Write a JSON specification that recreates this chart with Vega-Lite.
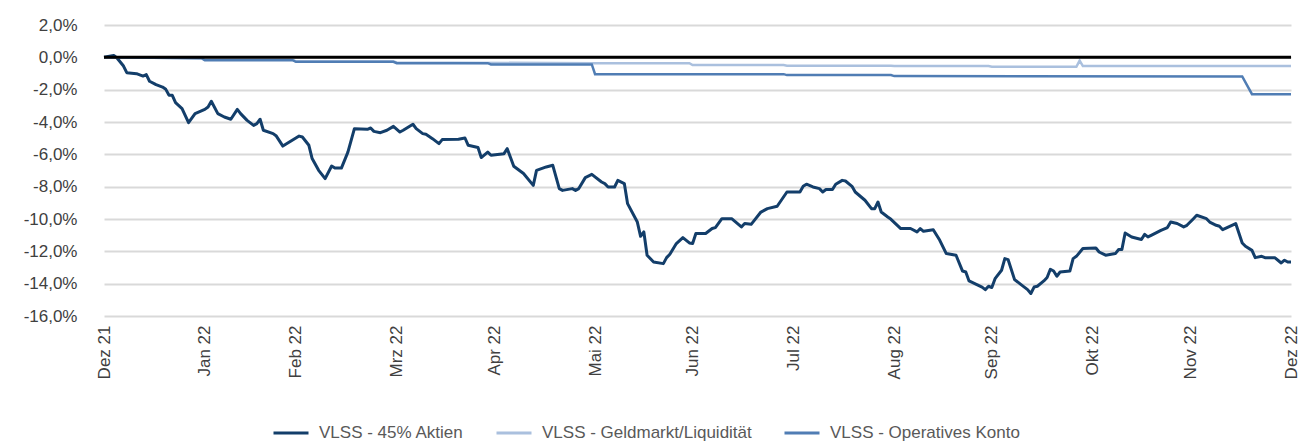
{
  "$schema": "https://vega.github.io/schema/vega-lite/v6.json",
  "width": 1187,
  "height": 291,
  "padding": {"left": 104, "top": 25, "right": 8, "bottom": 125},
  "autosize": {"type": "none"},
  "background": "white",
  "config": {
    "view": {"stroke": null},
    "font": "Liberation Sans",
    "axis": {"labelFont": "Liberation Sans", "labelFontSize": 17, "labelColor": "#404040", "domain": false, "ticks": false, "gridColor": "#d9d9d9", "gridWidth": 2}
  },
  "datasets": {
    "perf": [
      {"date": "2021-12-31", "series": "VLSS - 45% Aktien", "value": 0},
      {"date": "2022-01-03", "series": "VLSS - 45% Aktien", "value": 0.12},
      {"date": "2022-01-04", "series": "VLSS - 45% Aktien", "value": -0.04},
      {"date": "2022-01-06", "series": "VLSS - 45% Aktien", "value": -0.54},
      {"date": "2022-01-07", "series": "VLSS - 45% Aktien", "value": -0.95},
      {"date": "2022-01-10", "series": "VLSS - 45% Aktien", "value": -1.01},
      {"date": "2022-01-12", "series": "VLSS - 45% Aktien", "value": -1.16},
      {"date": "2022-01-13", "series": "VLSS - 45% Aktien", "value": -1.07},
      {"date": "2022-01-14", "series": "VLSS - 45% Aktien", "value": -1.48},
      {"date": "2022-01-16", "series": "VLSS - 45% Aktien", "value": -1.69},
      {"date": "2022-01-18", "series": "VLSS - 45% Aktien", "value": -1.84},
      {"date": "2022-01-19", "series": "VLSS - 45% Aktien", "value": -1.98},
      {"date": "2022-01-20", "series": "VLSS - 45% Aktien", "value": -2.35},
      {"date": "2022-01-21", "series": "VLSS - 45% Aktien", "value": -2.35},
      {"date": "2022-01-22", "series": "VLSS - 45% Aktien", "value": -2.8},
      {"date": "2022-01-24", "series": "VLSS - 45% Aktien", "value": -3.17},
      {"date": "2022-01-26", "series": "VLSS - 45% Aktien", "value": -4.04},
      {"date": "2022-01-28", "series": "VLSS - 45% Aktien", "value": -3.48},
      {"date": "2022-01-31", "series": "VLSS - 45% Aktien", "value": -3.22},
      {"date": "2022-02-01", "series": "VLSS - 45% Aktien", "value": -3.07},
      {"date": "2022-02-02", "series": "VLSS - 45% Aktien", "value": -2.72},
      {"date": "2022-02-04", "series": "VLSS - 45% Aktien", "value": -3.48},
      {"date": "2022-02-06", "series": "VLSS - 45% Aktien", "value": -3.69},
      {"date": "2022-02-08", "series": "VLSS - 45% Aktien", "value": -3.83},
      {"date": "2022-02-10", "series": "VLSS - 45% Aktien", "value": -3.22},
      {"date": "2022-02-11", "series": "VLSS - 45% Aktien", "value": -3.48},
      {"date": "2022-02-13", "series": "VLSS - 45% Aktien", "value": -3.9},
      {"date": "2022-02-15", "series": "VLSS - 45% Aktien", "value": -4.21},
      {"date": "2022-02-16", "series": "VLSS - 45% Aktien", "value": -4.1},
      {"date": "2022-02-17", "series": "VLSS - 45% Aktien", "value": -3.83},
      {"date": "2022-02-18", "series": "VLSS - 45% Aktien", "value": -4.51},
      {"date": "2022-02-21", "series": "VLSS - 45% Aktien", "value": -4.72},
      {"date": "2022-02-22", "series": "VLSS - 45% Aktien", "value": -4.87},
      {"date": "2022-02-24", "series": "VLSS - 45% Aktien", "value": -5.49},
      {"date": "2022-02-26", "series": "VLSS - 45% Aktien", "value": -5.24},
      {"date": "2022-03-01", "series": "VLSS - 45% Aktien", "value": -4.87},
      {"date": "2022-03-02", "series": "VLSS - 45% Aktien", "value": -4.93},
      {"date": "2022-03-04", "series": "VLSS - 45% Aktien", "value": -5.44},
      {"date": "2022-03-05", "series": "VLSS - 45% Aktien", "value": -6.26},
      {"date": "2022-03-07", "series": "VLSS - 45% Aktien", "value": -6.99},
      {"date": "2022-03-09", "series": "VLSS - 45% Aktien", "value": -7.5},
      {"date": "2022-03-11", "series": "VLSS - 45% Aktien", "value": -6.72},
      {"date": "2022-03-12", "series": "VLSS - 45% Aktien", "value": -6.85},
      {"date": "2022-03-14", "series": "VLSS - 45% Aktien", "value": -6.85},
      {"date": "2022-03-16", "series": "VLSS - 45% Aktien", "value": -5.86},
      {"date": "2022-03-18", "series": "VLSS - 45% Aktien", "value": -4.41},
      {"date": "2022-03-22", "series": "VLSS - 45% Aktien", "value": -4.45},
      {"date": "2022-03-23", "series": "VLSS - 45% Aktien", "value": -4.37},
      {"date": "2022-03-24", "series": "VLSS - 45% Aktien", "value": -4.58},
      {"date": "2022-03-26", "series": "VLSS - 45% Aktien", "value": -4.66},
      {"date": "2022-03-28", "series": "VLSS - 45% Aktien", "value": -4.51},
      {"date": "2022-03-30", "series": "VLSS - 45% Aktien", "value": -4.27},
      {"date": "2022-04-01", "series": "VLSS - 45% Aktien", "value": -4.62},
      {"date": "2022-04-02", "series": "VLSS - 45% Aktien", "value": -4.51},
      {"date": "2022-04-05", "series": "VLSS - 45% Aktien", "value": -4.14},
      {"date": "2022-04-06", "series": "VLSS - 45% Aktien", "value": -4.41},
      {"date": "2022-04-08", "series": "VLSS - 45% Aktien", "value": -4.72},
      {"date": "2022-04-09", "series": "VLSS - 45% Aktien", "value": -4.76},
      {"date": "2022-04-11", "series": "VLSS - 45% Aktien", "value": -5.03},
      {"date": "2022-04-13", "series": "VLSS - 45% Aktien", "value": -5.34},
      {"date": "2022-04-14", "series": "VLSS - 45% Aktien", "value": -5.09},
      {"date": "2022-04-19", "series": "VLSS - 45% Aktien", "value": -5.07},
      {"date": "2022-04-21", "series": "VLSS - 45% Aktien", "value": -4.99},
      {"date": "2022-04-22", "series": "VLSS - 45% Aktien", "value": -5.44},
      {"date": "2022-04-25", "series": "VLSS - 45% Aktien", "value": -5.58},
      {"date": "2022-04-26", "series": "VLSS - 45% Aktien", "value": -6.2},
      {"date": "2022-04-28", "series": "VLSS - 45% Aktien", "value": -5.86},
      {"date": "2022-04-29", "series": "VLSS - 45% Aktien", "value": -6.06},
      {"date": "2022-05-03", "series": "VLSS - 45% Aktien", "value": -5.96},
      {"date": "2022-05-04", "series": "VLSS - 45% Aktien", "value": -5.65},
      {"date": "2022-05-06", "series": "VLSS - 45% Aktien", "value": -6.74},
      {"date": "2022-05-09", "series": "VLSS - 45% Aktien", "value": -7.19},
      {"date": "2022-05-12", "series": "VLSS - 45% Aktien", "value": -7.92},
      {"date": "2022-05-13", "series": "VLSS - 45% Aktien", "value": -6.99},
      {"date": "2022-05-16", "series": "VLSS - 45% Aktien", "value": -6.78},
      {"date": "2022-05-18", "series": "VLSS - 45% Aktien", "value": -6.68},
      {"date": "2022-05-20", "series": "VLSS - 45% Aktien", "value": -8.12},
      {"date": "2022-05-21", "series": "VLSS - 45% Aktien", "value": -8.23},
      {"date": "2022-05-24", "series": "VLSS - 45% Aktien", "value": -8.12},
      {"date": "2022-05-25", "series": "VLSS - 45% Aktien", "value": -8.23},
      {"date": "2022-05-26", "series": "VLSS - 45% Aktien", "value": -8.12},
      {"date": "2022-05-28", "series": "VLSS - 45% Aktien", "value": -7.44},
      {"date": "2022-05-30", "series": "VLSS - 45% Aktien", "value": -7.24},
      {"date": "2022-06-02", "series": "VLSS - 45% Aktien", "value": -7.71},
      {"date": "2022-06-03", "series": "VLSS - 45% Aktien", "value": -7.81},
      {"date": "2022-06-04", "series": "VLSS - 45% Aktien", "value": -8.02},
      {"date": "2022-06-06", "series": "VLSS - 45% Aktien", "value": -8.02},
      {"date": "2022-06-07", "series": "VLSS - 45% Aktien", "value": -7.61},
      {"date": "2022-06-09", "series": "VLSS - 45% Aktien", "value": -7.81},
      {"date": "2022-06-10", "series": "VLSS - 45% Aktien", "value": -9.05},
      {"date": "2022-06-13", "series": "VLSS - 45% Aktien", "value": -10.19},
      {"date": "2022-06-14", "series": "VLSS - 45% Aktien", "value": -11.07},
      {"date": "2022-06-15", "series": "VLSS - 45% Aktien", "value": -10.8},
      {"date": "2022-06-16", "series": "VLSS - 45% Aktien", "value": -12.24},
      {"date": "2022-06-18", "series": "VLSS - 45% Aktien", "value": -12.66},
      {"date": "2022-06-21", "series": "VLSS - 45% Aktien", "value": -12.76},
      {"date": "2022-06-22", "series": "VLSS - 45% Aktien", "value": -12.39},
      {"date": "2022-06-23", "series": "VLSS - 45% Aktien", "value": -12.18},
      {"date": "2022-06-25", "series": "VLSS - 45% Aktien", "value": -11.52},
      {"date": "2022-06-27", "series": "VLSS - 45% Aktien", "value": -11.15},
      {"date": "2022-06-29", "series": "VLSS - 45% Aktien", "value": -11.48},
      {"date": "2022-06-30", "series": "VLSS - 45% Aktien", "value": -11.52},
      {"date": "2022-07-01", "series": "VLSS - 45% Aktien", "value": -10.9},
      {"date": "2022-07-04", "series": "VLSS - 45% Aktien", "value": -10.9},
      {"date": "2022-07-06", "series": "VLSS - 45% Aktien", "value": -10.59},
      {"date": "2022-07-07", "series": "VLSS - 45% Aktien", "value": -10.53},
      {"date": "2022-07-09", "series": "VLSS - 45% Aktien", "value": -9.98},
      {"date": "2022-07-12", "series": "VLSS - 45% Aktien", "value": -9.98},
      {"date": "2022-07-15", "series": "VLSS - 45% Aktien", "value": -10.49},
      {"date": "2022-07-16", "series": "VLSS - 45% Aktien", "value": -10.28},
      {"date": "2022-07-18", "series": "VLSS - 45% Aktien", "value": -10.33},
      {"date": "2022-07-21", "series": "VLSS - 45% Aktien", "value": -9.57},
      {"date": "2022-07-23", "series": "VLSS - 45% Aktien", "value": -9.36},
      {"date": "2022-07-26", "series": "VLSS - 45% Aktien", "value": -9.21},
      {"date": "2022-07-29", "series": "VLSS - 45% Aktien", "value": -8.33},
      {"date": "2022-08-02", "series": "VLSS - 45% Aktien", "value": -8.33},
      {"date": "2022-08-03", "series": "VLSS - 45% Aktien", "value": -7.98},
      {"date": "2022-08-04", "series": "VLSS - 45% Aktien", "value": -7.85},
      {"date": "2022-08-06", "series": "VLSS - 45% Aktien", "value": -8.02},
      {"date": "2022-08-08", "series": "VLSS - 45% Aktien", "value": -8.12},
      {"date": "2022-08-09", "series": "VLSS - 45% Aktien", "value": -8.33},
      {"date": "2022-08-10", "series": "VLSS - 45% Aktien", "value": -8.18},
      {"date": "2022-08-12", "series": "VLSS - 45% Aktien", "value": -8.18},
      {"date": "2022-08-13", "series": "VLSS - 45% Aktien", "value": -7.85},
      {"date": "2022-08-15", "series": "VLSS - 45% Aktien", "value": -7.61},
      {"date": "2022-08-16", "series": "VLSS - 45% Aktien", "value": -7.65},
      {"date": "2022-08-18", "series": "VLSS - 45% Aktien", "value": -7.98},
      {"date": "2022-08-19", "series": "VLSS - 45% Aktien", "value": -8.33},
      {"date": "2022-08-22", "series": "VLSS - 45% Aktien", "value": -8.84},
      {"date": "2022-08-24", "series": "VLSS - 45% Aktien", "value": -9.36},
      {"date": "2022-08-25", "series": "VLSS - 45% Aktien", "value": -9.36},
      {"date": "2022-08-26", "series": "VLSS - 45% Aktien", "value": -8.95},
      {"date": "2022-08-27", "series": "VLSS - 45% Aktien", "value": -9.57},
      {"date": "2022-08-29", "series": "VLSS - 45% Aktien", "value": -9.88},
      {"date": "2022-08-30", "series": "VLSS - 45% Aktien", "value": -10.02},
      {"date": "2022-09-02", "series": "VLSS - 45% Aktien", "value": -10.59},
      {"date": "2022-09-05", "series": "VLSS - 45% Aktien", "value": -10.59},
      {"date": "2022-09-07", "series": "VLSS - 45% Aktien", "value": -10.8},
      {"date": "2022-09-08", "series": "VLSS - 45% Aktien", "value": -10.59},
      {"date": "2022-09-09", "series": "VLSS - 45% Aktien", "value": -10.76},
      {"date": "2022-09-12", "series": "VLSS - 45% Aktien", "value": -10.66},
      {"date": "2022-09-14", "series": "VLSS - 45% Aktien", "value": -11.32},
      {"date": "2022-09-16", "series": "VLSS - 45% Aktien", "value": -12.14},
      {"date": "2022-09-19", "series": "VLSS - 45% Aktien", "value": -12.24},
      {"date": "2022-09-21", "series": "VLSS - 45% Aktien", "value": -13.22},
      {"date": "2022-09-22", "series": "VLSS - 45% Aktien", "value": -13.28},
      {"date": "2022-09-23", "series": "VLSS - 45% Aktien", "value": -13.83},
      {"date": "2022-09-27", "series": "VLSS - 45% Aktien", "value": -14.21},
      {"date": "2022-09-28", "series": "VLSS - 45% Aktien", "value": -14.37},
      {"date": "2022-09-29", "series": "VLSS - 45% Aktien", "value": -14.16},
      {"date": "2022-09-30", "series": "VLSS - 45% Aktien", "value": -14.24},
      {"date": "2022-10-01", "series": "VLSS - 45% Aktien", "value": -13.69},
      {"date": "2022-10-03", "series": "VLSS - 45% Aktien", "value": -13.17},
      {"date": "2022-10-04", "series": "VLSS - 45% Aktien", "value": -12.45},
      {"date": "2022-10-05", "series": "VLSS - 45% Aktien", "value": -12.51},
      {"date": "2022-10-07", "series": "VLSS - 45% Aktien", "value": -13.75},
      {"date": "2022-10-09", "series": "VLSS - 45% Aktien", "value": -14.06},
      {"date": "2022-10-11", "series": "VLSS - 45% Aktien", "value": -14.37},
      {"date": "2022-10-12", "series": "VLSS - 45% Aktien", "value": -14.61},
      {"date": "2022-10-13", "series": "VLSS - 45% Aktien", "value": -14.21},
      {"date": "2022-10-14", "series": "VLSS - 45% Aktien", "value": -14.16},
      {"date": "2022-10-16", "series": "VLSS - 45% Aktien", "value": -13.83},
      {"date": "2022-10-17", "series": "VLSS - 45% Aktien", "value": -13.62},
      {"date": "2022-10-18", "series": "VLSS - 45% Aktien", "value": -13.11},
      {"date": "2022-10-19", "series": "VLSS - 45% Aktien", "value": -13.22},
      {"date": "2022-10-20", "series": "VLSS - 45% Aktien", "value": -13.54},
      {"date": "2022-10-21", "series": "VLSS - 45% Aktien", "value": -13.28},
      {"date": "2022-10-24", "series": "VLSS - 45% Aktien", "value": -13.22},
      {"date": "2022-10-25", "series": "VLSS - 45% Aktien", "value": -12.45},
      {"date": "2022-10-26", "series": "VLSS - 45% Aktien", "value": -12.31},
      {"date": "2022-10-28", "series": "VLSS - 45% Aktien", "value": -11.83},
      {"date": "2022-11-01", "series": "VLSS - 45% Aktien", "value": -11.79},
      {"date": "2022-11-02", "series": "VLSS - 45% Aktien", "value": -12.04},
      {"date": "2022-11-04", "series": "VLSS - 45% Aktien", "value": -12.24},
      {"date": "2022-11-07", "series": "VLSS - 45% Aktien", "value": -12.14},
      {"date": "2022-11-08", "series": "VLSS - 45% Aktien", "value": -11.89},
      {"date": "2022-11-09", "series": "VLSS - 45% Aktien", "value": -11.89},
      {"date": "2022-11-10", "series": "VLSS - 45% Aktien", "value": -10.87},
      {"date": "2022-11-12", "series": "VLSS - 45% Aktien", "value": -11.11},
      {"date": "2022-11-15", "series": "VLSS - 45% Aktien", "value": -11.27},
      {"date": "2022-11-16", "series": "VLSS - 45% Aktien", "value": -10.95},
      {"date": "2022-11-17", "series": "VLSS - 45% Aktien", "value": -11.11},
      {"date": "2022-11-18", "series": "VLSS - 45% Aktien", "value": -11.01},
      {"date": "2022-11-21", "series": "VLSS - 45% Aktien", "value": -10.7},
      {"date": "2022-11-23", "series": "VLSS - 45% Aktien", "value": -10.53},
      {"date": "2022-11-24", "series": "VLSS - 45% Aktien", "value": -10.19},
      {"date": "2022-11-26", "series": "VLSS - 45% Aktien", "value": -10.28},
      {"date": "2022-11-28", "series": "VLSS - 45% Aktien", "value": -10.49},
      {"date": "2022-11-29", "series": "VLSS - 45% Aktien", "value": -10.39},
      {"date": "2022-12-01", "series": "VLSS - 45% Aktien", "value": -9.98},
      {"date": "2022-12-02", "series": "VLSS - 45% Aktien", "value": -9.77},
      {"date": "2022-12-05", "series": "VLSS - 45% Aktien", "value": -9.98},
      {"date": "2022-12-06", "series": "VLSS - 45% Aktien", "value": -10.19},
      {"date": "2022-12-08", "series": "VLSS - 45% Aktien", "value": -10.39},
      {"date": "2022-12-09", "series": "VLSS - 45% Aktien", "value": -10.45},
      {"date": "2022-12-10", "series": "VLSS - 45% Aktien", "value": -10.66},
      {"date": "2022-12-14", "series": "VLSS - 45% Aktien", "value": -10.28},
      {"date": "2022-12-16", "series": "VLSS - 45% Aktien", "value": -11.48},
      {"date": "2022-12-17", "series": "VLSS - 45% Aktien", "value": -11.69},
      {"date": "2022-12-19", "series": "VLSS - 45% Aktien", "value": -11.94},
      {"date": "2022-12-20", "series": "VLSS - 45% Aktien", "value": -12.39},
      {"date": "2022-12-22", "series": "VLSS - 45% Aktien", "value": -12.31},
      {"date": "2022-12-23", "series": "VLSS - 45% Aktien", "value": -12.39},
      {"date": "2022-12-26", "series": "VLSS - 45% Aktien", "value": -12.39},
      {"date": "2022-12-28", "series": "VLSS - 45% Aktien", "value": -12.72},
      {"date": "2022-12-29", "series": "VLSS - 45% Aktien", "value": -12.55},
      {"date": "2022-12-30", "series": "VLSS - 45% Aktien", "value": -12.66},
      {"date": "2022-12-31", "series": "VLSS - 45% Aktien", "value": -12.66},

      {"date": "2021-12-31", "series": "VLSS - Geldmarkt/Liquidität", "value": 0},
      {"date": "2022-01-30", "series": "VLSS - Geldmarkt/Liquidität", "value": -0.05},
      {"date": "2022-01-31", "series": "VLSS - Geldmarkt/Liquidität", "value": -0.15},
      {"date": "2022-02-27", "series": "VLSS - Geldmarkt/Liquidität", "value": -0.15},
      {"date": "2022-02-28", "series": "VLSS - Geldmarkt/Liquidität", "value": -0.25},
      {"date": "2022-03-30", "series": "VLSS - Geldmarkt/Liquidität", "value": -0.25},
      {"date": "2022-03-31", "series": "VLSS - Geldmarkt/Liquidität", "value": -0.32},
      {"date": "2022-05-31", "series": "VLSS - Geldmarkt/Liquidität", "value": -0.36},
      {"date": "2022-06-29", "series": "VLSS - Geldmarkt/Liquidität", "value": -0.36},
      {"date": "2022-06-30", "series": "VLSS - Geldmarkt/Liquidität", "value": -0.48},
      {"date": "2022-07-28", "series": "VLSS - Geldmarkt/Liquidität", "value": -0.48},
      {"date": "2022-07-29", "series": "VLSS - Geldmarkt/Liquidität", "value": -0.52},
      {"date": "2022-08-30", "series": "VLSS - Geldmarkt/Liquidität", "value": -0.52},
      {"date": "2022-08-31", "series": "VLSS - Geldmarkt/Liquidität", "value": -0.54},
      {"date": "2022-09-29", "series": "VLSS - Geldmarkt/Liquidität", "value": -0.54},
      {"date": "2022-09-30", "series": "VLSS - Geldmarkt/Liquidität", "value": -0.58},
      {"date": "2022-10-26", "series": "VLSS - Geldmarkt/Liquidität", "value": -0.58},
      {"date": "2022-10-27", "series": "VLSS - Geldmarkt/Liquidität", "value": -0.2},
      {"date": "2022-10-28", "series": "VLSS - Geldmarkt/Liquidität", "value": -0.54},
      {"date": "2022-12-31", "series": "VLSS - Geldmarkt/Liquidität", "value": -0.54},

      {"date": "2021-12-31", "series": "VLSS - Operatives Konto", "value": 0},
      {"date": "2022-01-30", "series": "VLSS - Operatives Konto", "value": -0.05},
      {"date": "2022-01-31", "series": "VLSS - Operatives Konto", "value": -0.18},
      {"date": "2022-02-27", "series": "VLSS - Operatives Konto", "value": -0.18},
      {"date": "2022-02-28", "series": "VLSS - Operatives Konto", "value": -0.28},
      {"date": "2022-03-30", "series": "VLSS - Operatives Konto", "value": -0.28},
      {"date": "2022-03-31", "series": "VLSS - Operatives Konto", "value": -0.36},
      {"date": "2022-04-28", "series": "VLSS - Operatives Konto", "value": -0.36},
      {"date": "2022-04-29", "series": "VLSS - Operatives Konto", "value": -0.44},
      {"date": "2022-05-30", "series": "VLSS - Operatives Konto", "value": -0.44},
      {"date": "2022-05-31", "series": "VLSS - Operatives Konto", "value": -1.04},
      {"date": "2022-07-28", "series": "VLSS - Operatives Konto", "value": -1.04},
      {"date": "2022-07-29", "series": "VLSS - Operatives Konto", "value": -1.1},
      {"date": "2022-08-30", "series": "VLSS - Operatives Konto", "value": -1.1},
      {"date": "2022-08-31", "series": "VLSS - Operatives Konto", "value": -1.16},
      {"date": "2022-12-16", "series": "VLSS - Operatives Konto", "value": -1.18},
      {"date": "2022-12-19", "series": "VLSS - Operatives Konto", "value": -2.28},
      {"date": "2022-12-31", "series": "VLSS - Operatives Konto", "value": -2.28}
    ],
    "zero": [{"value": 0}]
  },
  "encoding": {
    "x": {
      "field": "date", "type": "temporal", "title": null,
      "scale": {"type": "utc", "domain": [{"year": 2021, "month": 12, "date": 31, "utc": true}, {"year": 2022, "month": 12, "date": 31, "utc": true}], "nice": false},
      "axis": {
        "grid": false, "labelAngle": -90, "labelPadding": 9, "labelAlign": "right", "labelBaseline": "middle",
        "values": [
          {"year": 2021, "month": 12, "date": 31, "utc": true},
          {"year": 2022, "month": 1, "date": 31, "utc": true},
          {"year": 2022, "month": 2, "date": 28, "utc": true},
          {"year": 2022, "month": 3, "date": 31, "utc": true},
          {"year": 2022, "month": 4, "date": 30, "utc": true},
          {"year": 2022, "month": 5, "date": 31, "utc": true},
          {"year": 2022, "month": 6, "date": 30, "utc": true},
          {"year": 2022, "month": 7, "date": 31, "utc": true},
          {"year": 2022, "month": 8, "date": 31, "utc": true},
          {"year": 2022, "month": 9, "date": 30, "utc": true},
          {"year": 2022, "month": 10, "date": 31, "utc": true},
          {"year": 2022, "month": 11, "date": 30, "utc": true},
          {"year": 2022, "month": 12, "date": 31, "utc": true}
        ],
        "labelExpr": "['Jan','Feb','Mrz','Apr','Mai','Jun','Jul','Aug','Sep','Okt','Nov','Dez'][utcmonth(datum.value)] + ' ' + utcFormat(datum.value, '%y')",
        "labelOverlap": false
      }
    },
    "y": {
      "field": "value", "type": "quantitative", "title": null,
      "scale": {"domain": [-16, 2], "nice": false, "zero": false},
      "axis": {
        "values": [-16, -14, -12, -10, -8, -6, -4, -2, 0, 2],
        "labelPadding": 27,
        "labelExpr": "(datum.value < 0 ? '-' : '') + replace(format(abs(datum.value), '.1f'), '.', ',') + '%'"
      }
    }
  },
  "layer": [
    {
      "data": {"name": "perf"},
      "transform": [{"filter": "datum.series === 'VLSS - 45% Aktien'"}],
      "mark": {"type": "line", "strokeWidth": 3, "strokeJoin": "round"},
      "encoding": {
        "color": {
          "field": "series", "type": "nominal",
          "scale": {"domain": ["VLSS - 45% Aktien", "VLSS - Geldmarkt/Liquidität", "VLSS - Operatives Konto"], "range": ["#133e6a", "#aac0de", "#507db4"]},
          "legend": {
            "title": null, "orient": "none", "legendX": 168, "legendY": 389, "direction": "horizontal",
            "symbolType": "stroke", "symbolSize": 1225, "symbolStrokeWidth": 3,
            "labelFontSize": 17, "labelFont": "Liberation Sans", "labelColor": "#595959", "labelLimit": 500,
            "labelOffset": 9, "columnPadding": 26
          }
        }
      }
    },
    {
      "data": {"name": "perf"},
      "transform": [{"filter": "datum.series === 'VLSS - Geldmarkt/Liquidität'"}],
      "mark": {"type": "line", "strokeWidth": 2.5},
      "encoding": {"color": {"field": "series", "type": "nominal"}}
    },
    {
      "data": {"name": "perf"},
      "transform": [{"filter": "datum.series === 'VLSS - Operatives Konto'"}],
      "mark": {"type": "line", "strokeWidth": 2.5},
      "encoding": {"color": {"field": "series", "type": "nominal"}}
    },
    {
      "data": {"name": "zero"},
      "mark": {"type": "rule", "color": "#000000", "strokeWidth": 3},
      "encoding": {"y": {"field": "value", "type": "quantitative"}, "x": null}
    }
  ]
}
